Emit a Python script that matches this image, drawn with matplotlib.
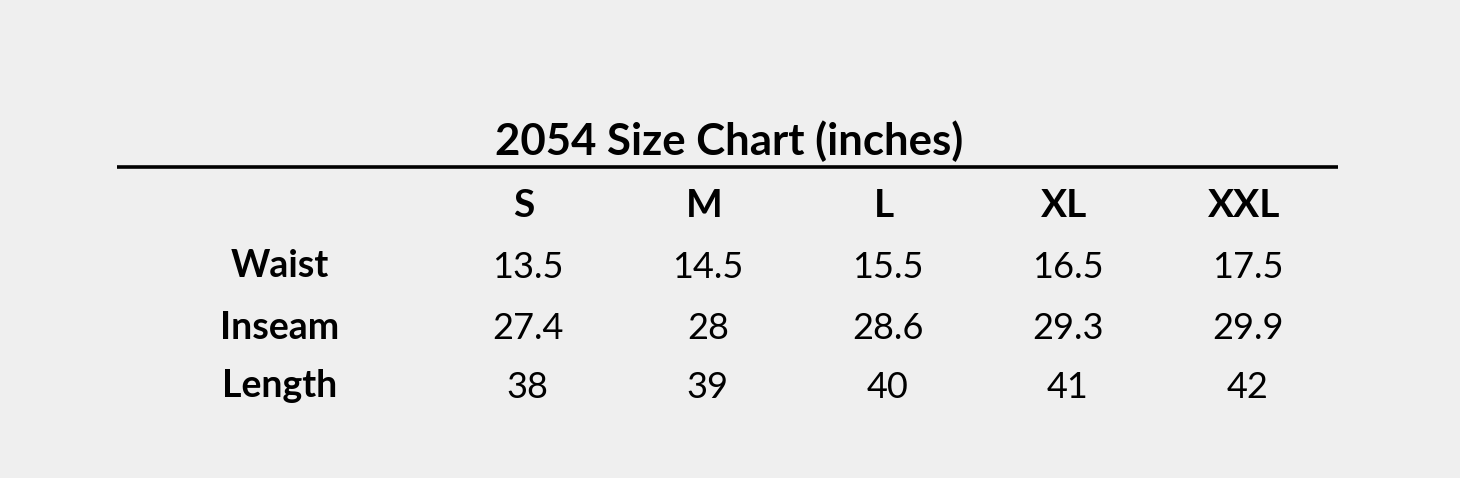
import matplotlib
matplotlib.use("Agg")
import matplotlib.pyplot as plt

title = "2054 Size Chart (inches)"
sizes = ["S", "M", "L", "XL", "XXL"]
measures = ["Waist", "Inseam", "Length"]
waist = ["13.5", "14.5", "15.5", "16.5", "17.5"]
inseam = ["27.4", "28", "28.6", "29.3", "29.9"]
length = ["38", "39", "40", "41", "42"]
values = [waist, inseam, length]

BG = "#efefef"
FONT = "Lato"

fig = plt.figure(figsize=(14.6, 4.78), dpi=100, facecolor=BG)
ax = fig.add_axes([0, 0, 1, 1])
ax.set_facecolor(BG)
ax.axis("off")

# pixel -> data mapping: x = (px-526)/180, y = (py-264)/60
ax.set_xlim(-526 / 180, (1460 - 526) / 180)
ax.set_ylim((478 - 264) / 60, -264 / 60)

ax.text(1.13, -2.05, title, ha="center", va="center", fontsize=31.5,
        fontweight="bold", family=FONT, color="black")
ax.plot([-2.27, 4.51], [-1.62, -1.62], color="black", lw=2.6,
        solid_capstyle="butt")

for i, s in enumerate(sizes):
    ax.text(i - 0.01, -0.98, s, ha="center", va="center", fontsize=28,
            fontweight="bold", family=FONT, color="black")

row_y = [0.03, 1.06, 2.03]
for j, m in enumerate(measures):
    ax.text(-1.37, row_y[j], m, ha="center", va="center", fontsize=27,
            fontweight="bold", family=FONT, color="black")
    for i, v in enumerate(values[j]):
        ax.text(i + 0.01, row_y[j] + 0.02, v, ha="center", va="center",
                fontsize=26, family=FONT, color="black")

fig.savefig("out.png", dpi=100, facecolor=BG)
